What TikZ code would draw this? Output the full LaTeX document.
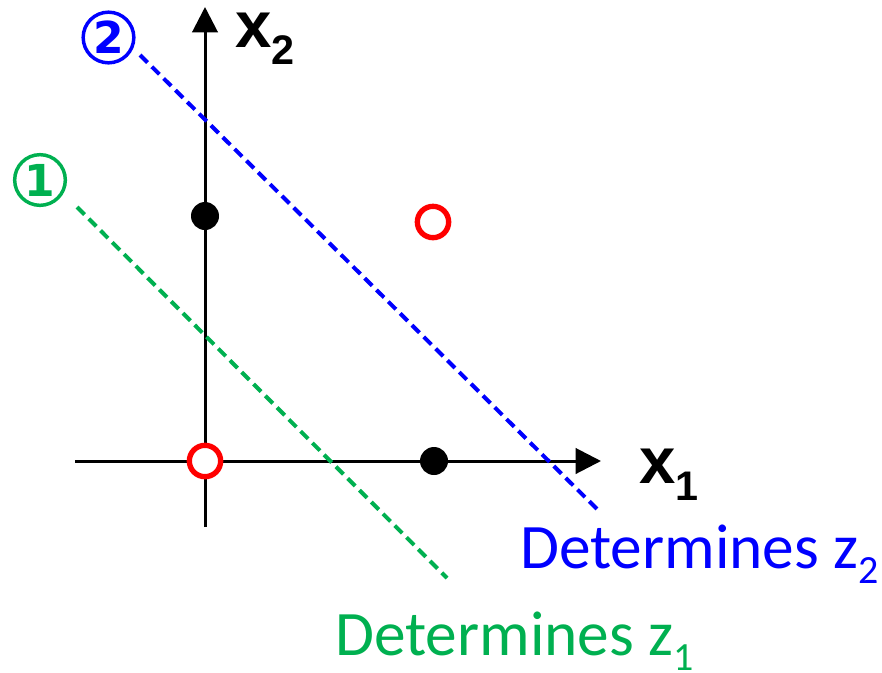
\documentclass[tikz,border=0pt]{standalone}
\usepackage{fontspec}
\setmainfont{Carlito}
\newfontfamily\arialfont{Liberation Sans}
\newfontfamily\tagfont{DejaVu Sans}
\usepackage{xcolor}
\usetikzlibrary{positioning,arrows.meta,calc}
\definecolor{myblue}{RGB}{0,0,255}
\definecolor{mygreen}{RGB}{0,176,80}
\definecolor{myred}{RGB}{255,0,0}
\newcommand{\axlabel}[2]{{\arialfont\bfseries\fontsize{49}{56}\selectfont #1\raisebox{-0.27em}{\fontsize{31}{36}\selectfont #2}}}
\newcommand{\detlabel}[1]{{\fontsize{47.5}{52}\selectfont Determines z\raisebox{-0.24em}{\fontsize{30}{34}\selectfont #1}}}

\begin{document}
\begin{tikzpicture}[x=0.75pt,y=-0.75pt,
        axis/.style={line width=2.25pt, -{Triangle[length=19pt,width=19pt]}},
        hplane/.style={line width=3pt, dash pattern=on 8pt off 4.5pt},
        posdot/.style={circle, fill=black, inner sep=0pt, minimum size=21pt},
        negdot/.style={circle, draw=myred, fill=white, line width=4pt,
                    inner sep=0pt, minimum size=23.5pt},
        tag/.style={circle, draw, line width=2.6pt, minimum size=38pt,
                    inner sep=0pt, font=\tagfont\bfseries\fontsize{33}{36}\selectfont}
      ]
        \useasboundingbox (0,0) rectangle (882,672);
        % axes
        \coordinate (xs) at (75,461);
        \coordinate (xe) at (601,461);
        \coordinate (ys) at (205,527);
        \coordinate (ye) at (205,7);
        \draw[axis] (xs) -- (xe);
        \draw[axis] (ys) -- (ye);
        \node[anchor=base west, inner sep=0pt] (lx1) at (639,483) {\axlabel{x}{1}};
        \node[anchor=base west, inner sep=0pt] (lx2) at (235,47) {\axlabel{x}{2}};
        % hyperplanes
        \coordinate (b1) at (140,55);
        \coordinate (b2) at (597,509);
        \coordinate (g1) at (77,207);
        \coordinate (g2) at (447,578);
        \draw[hplane, myblue] (b1) -- (b2);
        \draw[hplane, mygreen] (g1) -- (g2);
        \node[tag, myblue] (t2) at (108.5,37.5) {2};
        \node[tag, mygreen] (t1) at (40,180) {1};
        % data points
        \node[posdot] (p01) at (205,216) {};
        \node[posdot] (p10) at (434,461) {};
        \node[negdot] (n00) at (205,461) {};
        \node[negdot] (n11) at (433,222) {};
        % labels
        \node[anchor=base west, inner sep=0pt, myblue] (dz2) at (520,568) {\detlabel{2}};
        \node[anchor=base west, inner sep=0pt, mygreen] (dz1) at (335,655) {\detlabel{1}};
      \end{tikzpicture}
\end{document}
